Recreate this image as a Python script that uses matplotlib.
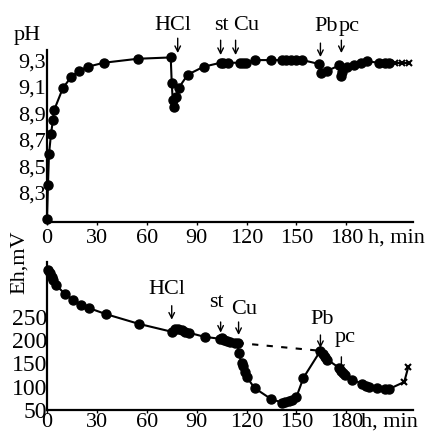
import numpy as np
import matplotlib.pyplot as plt

plt.rcParams['font.family'] = ['Liberation Serif', 'DejaVu Serif']

# --- pH curve (top panel) ---
t_ph = [0, 0.6, 1.2, 2.4, 3.6, 4.2, 9.6, 14.4, 19.2, 24.6, 34.2, 54.6, 74.4,
        75, 75.6, 76.2, 77.4, 79.2, 84.6, 94.2, 104.4, 106, 108.6, 115.8, 117.6,
        119.4, 124.8, 134.4, 141.6, 144, 147, 150, 153.6, 163.8, 165, 168.6,
        175.8, 177, 177.6, 180.6, 184.8, 189, 192.6, 199.8, 203.4, 205.8]
ph = [8.10, 8.36, 8.59, 8.74, 8.85, 8.92, 9.09, 9.17, 9.22, 9.25, 9.28, 9.31, 9.32,
      9.13, 9.00, 8.95, 9.02, 9.09, 9.19, 9.25, 9.28, 9.28, 9.28, 9.28, 9.28,
      9.28, 9.30, 9.30, 9.30, 9.30, 9.30, 9.30, 9.30, 9.27, 9.20, 9.22,
      9.26, 9.18, 9.21, 9.25, 9.26, 9.28, 9.29, 9.28, 9.28, 9.28]
t_ph_x = [205.8, 209.4, 213.6, 217.8]
ph_x = [9.28, 9.28, 9.28, 9.28]

# --- Eh curve (bottom panel) ---
t_eh = [0.6, 1.8, 3, 3.6, 5.4, 10.8, 15.6, 20.4, 25.2, 35.4, 55.2, 75, 76.8,
        78.6, 81, 82.8, 85.2, 94.8, 103.8, 105, 106.2, 108, 109.8, 112.8, 114.6,
        115.2, 117, 117.6, 118.8, 120, 124.8, 134.4, 141.6, 143.4, 145.8, 147.6,
        150, 154.2, 164.4, 166.2, 167.4, 168.6, 175.8, 177, 178.2, 179.4, 183.6,
        189.6, 192, 193.8, 198.6, 203.4, 205.8]
eh = [351, 345, 336, 330, 319, 299, 287, 276, 269, 256, 235, 218, 224,
      224, 222, 218, 216, 207, 203, 205, 201, 198, 196, 194, 194,
      173, 151, 145, 132, 121, 97, 74, 65, 67, 69, 72,
      78, 119, 177, 170, 164, 158, 140, 134, 130, 125, 115,
      106, 102, 99, 97, 95, 95]
t_eh_x = [205.8, 214.8, 217.2]
eh_x = [95, 110, 142]

xticks = [0, 30, 60, 90, 120, 150, 180]
ph_ticks = [8.3, 8.5, 8.7, 8.9, 9.1, 9.3]
ph_ticklabels = ['8,3', '8,5', '8,7', '8,9', '9,1', '9,3']
eh_ticks = [50, 100, 150, 200, 250]

# additions: (label, text x, text y, arrow x, arrow top, arrow tip)
events_ph = [('HCl', 75.6, 9.56, 78.6, 9.465, 9.353),
             ('st', 105, 9.56, 104.4, 9.45, 9.338),
             ('Cu', 120, 9.56, 113.4, 9.45, 9.338),
             ('Pb', 168, 9.55, 164.4, 9.428, 9.323),
             ('pc', 181.8, 9.55, 177, 9.45, 9.353)]
events_eh = [('HCl', 72, 308, 75, 274, 244),
             ('st', 102, 280, 104.4, 239, 216),
             ('Cu', 118.8, 265, 115.2, 239, 211),
             ('Pb', 165.6, 244, 164.4, 211, 183),
             ('pc', 179.4, 205, 177, 164, 132)]

fs = 16
fig = plt.figure(figsize=(4.31, 4.36), dpi=100)
ax1 = fig.add_axes([0.109, 0.491, 0.849, 0.394])
ax2 = fig.add_axes([0.109, 0.060, 0.849, 0.339])

for ax in (ax1, ax2):
    for s in ('top', 'right'):
        ax.spines[s].set_visible(False)
    for s in ('left', 'bottom'):
        ax.spines[s].set_linewidth(1.6)
    ax.set_xlim(0, 220)
    ax.set_xticks(xticks)
    ax.tick_params(axis='x', length=2, width=1, pad=3, labelsize=fs)
    ax.tick_params(axis='y', length=0, pad=1, labelsize=fs)
ax2.tick_params(axis='x', pad=0)

mk = dict(color='black', lw=1.5, marker='o', ms=6.5, clip_on=False)
xk = dict(color='black', lw=1.5, marker='x', ms=5, mew=1.5, clip_on=False)

# top: pH
ax1.plot(t_ph, ph, **mk)
ax1.plot(t_ph_x, ph_x, **xk)
ax1.set_ylim(8.08, 9.375)
ax1.set_yticks(ph_ticks)
ax1.set_yticklabels(ph_ticklabels)
ax1.text(-0.09, 1.03, 'pH', transform=ax1.transAxes, fontsize=fs,
         ha='left', va='bottom')
ax1.annotate('h, min', xy=(193, 8.08), xytext=(0, -5), textcoords='offset points',
             fontsize=fs, ha='left', va='top', annotation_clip=False)

# bottom: Eh
ax2.plot(t_eh, eh, **mk)
ax2.plot(t_eh_x, eh_x, **xk)
ax2.plot([t_eh[24], t_eh[38]], [eh[24], eh[38]], color='black', lw=1.5,
         ls=(0, (3, 4)))
ax2.set_ylim(50, 368)
ax2.set_yticks(eh_ticks)
ax2.tick_params(axis='y', labelsize=17, pad=0)
ax2.text(-0.075, 1.0, 'Eh,mV', transform=ax2.transAxes, fontsize=fs,
         rotation=90, ha='center', va='center')
ax2.annotate('h, min', xy=(189, 50), xytext=(0, -2), textcoords='offset points',
             fontsize=fs, ha='left', va='top', annotation_clip=False)

for ax, events in ((ax1, events_ph), (ax2, events_eh)):
    for lab, tx, ty, axx, ay0, ay1 in events:
        ax.text(tx, ty, lab, fontsize=fs, ha='center', va='center',
                clip_on=False)
        ax.annotate('', xy=(axx, ay1), xytext=(axx, ay0),
                    annotation_clip=False,
                    arrowprops=dict(arrowstyle='->', lw=1, color='black',
                                    shrinkA=0, shrinkB=0))

fig.savefig('out.png', dpi=100)
